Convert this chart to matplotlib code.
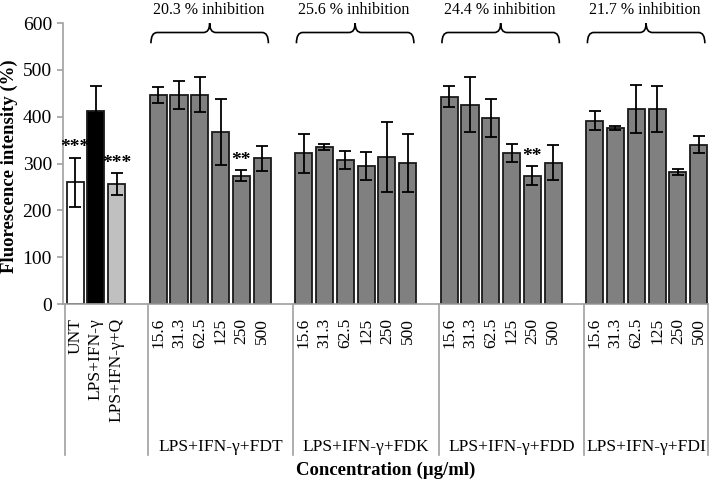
import numpy as np
import matplotlib
matplotlib.use("Agg")
import matplotlib.pyplot as plt
from matplotlib.path import Path
from matplotlib.patches import PathPatch

plt.rcParams['font.family'] = ['Liberation Serif', 'DejaVu Serif']

# control bars
control_labels = ["UNT", "LPS+IFN-γ", "LPS+IFN-γ+Q"]
control_means = [260, 413, 257]
control_errs = [53, 53, 23]
control_colors = ["white", "black", "#c0c0c0"]
control_stars = ["***", "", "***"]

# treatment groups
conc_labels = ["15.6", "31.3", "62.5", "125", "250", "500"]
group_names = ["LPS+IFN-γ+FDT", "LPS+IFN-γ+FDK", "LPS+IFN-γ+FDD", "LPS+IFN-γ+FDI"]
inhibition = ["20.3 % inhibition", "25.6 % inhibition", "24.4 % inhibition", "21.7 % inhibition"]

fdt_means = [447, 446, 447, 368, 274, 311]
fdt_errs = [17, 30, 37, 71, 12, 27]
fdk_means = [322, 335, 308, 295, 314, 301]
fdk_errs = [42, 6, 20, 30, 75, 62]
fdd_means = [443, 426, 397, 322, 274, 302]
fdd_errs = [23, 58, 41, 19, 20, 37]
fdi_means = [392, 376, 417, 417, 282, 340]
fdi_errs = [20, 4, 51, 49, 7, 18]

group_means = [fdt_means, fdk_means, fdd_means, fdi_means]
group_errs = [fdt_errs, fdk_errs, fdd_errs, fdi_errs]
group_stars = [["", "", "", "", "**", ""], ["", "", "", "", "", ""],
               ["", "", "", "", "**", ""], ["", "", "", "", "", ""]]

fig = plt.figure(figsize=(7.09, 4.82), dpi=100)
ax = fig.add_axes([0.0889, 0.369, 0.9111, 0.583])

bar_w = 0.82
edge = "#1a1a1a"
err_kw = dict(ecolor="black", elinewidth=1.3, capsize=4, capthick=1.3)

ctrl_x = np.arange(len(control_labels))
ax.bar(ctrl_x, control_means, bar_w, yerr=control_errs, color=control_colors,
       edgecolor=edge, linewidth=1.3, error_kw=err_kw, zorder=2)
for x, m, e, s in zip(ctrl_x, control_means, control_errs, control_stars):
    if s:
        ax.text(x, m + e + 3, s, ha="center", va="bottom", fontsize=14, fontweight="bold")

tick_pos = list(ctrl_x)
tick_lab = list(control_labels)
seps = [-0.5]
for g in range(len(group_names)):
    start = 4 + 7 * g
    gx = start + np.arange(len(conc_labels))
    ax.bar(gx, group_means[g], bar_w, yerr=group_errs[g], color="#808080",
           edgecolor=edge, linewidth=1.3, error_kw=err_kw, zorder=2)
    for x, m, e, s in zip(gx, group_means[g], group_errs[g], group_stars[g]):
        if s:
            ax.text(x, m + e + 3, s, ha="center", va="bottom", fontsize=14, fontweight="bold")
    tick_pos += list(gx)
    tick_lab += conc_labels
    seps.append(start - 0.5)

    # curly brace with inhibition text
    x0, x1 = gx[0] - 0.35, gx[-1] + 0.3
    xm = (x0 + x1) / 2
    y0, y1, y2 = 557, 580, 600
    verts = [(x0, y0), (x0, y1), (x0 + 0.3, y1),
             (xm - 0.3, y1), (xm, y1), (xm, y2),
             (xm, y1), (xm + 0.3, y1),
             (x1 - 0.3, y1), (x1, y1), (x1, y0)]
    codes = [Path.MOVETO, Path.CURVE3, Path.CURVE3,
             Path.LINETO, Path.CURVE3, Path.CURVE3,
             Path.CURVE3, Path.CURVE3,
             Path.LINETO, Path.CURVE3, Path.CURVE3]
    ax.add_patch(PathPatch(Path(verts, codes), fill=False, lw=1.2, ec="black", clip_on=False))
    ax.text(xm - 0.05, 629, inhibition[g], ha="center", va="center", fontsize=11.5)

    # group label under the ticks
    ax.text((start - 0.5 + min(start + 6.5, 30.5)) / 2, -0.509, group_names[g],
            transform=ax.get_xaxis_transform(), ha="center", va="center", fontsize=12.5)
seps.append(30.45)

for s in seps:
    ax.plot([s, s], [0, -0.537], color="#a0a0a0", lw=1.2,
            transform=ax.get_xaxis_transform(), clip_on=False)

ax.set_xticks(tick_pos)
ax.set_xticklabels(tick_lab, rotation=90, fontsize=12.5)
ax.tick_params(axis="x", length=0, pad=10)
ax.set_xlim(-0.58, 30.5)
ax.set_ylim(0, 600)
ax.set_yticks(range(0, 601, 100))
ax.tick_params(axis="y", direction="out", length=4, width=1.2, color="#a0a0a0",
               labelsize=14, pad=4)

for side in ["top", "right"]:
    ax.spines[side].set_visible(False)
for side in ["left", "bottom"]:
    ax.spines[side].set_color("#a0a0a0")
    ax.spines[side].set_linewidth(1.2)

ax.text(-0.0836, 0.49, "Fluorescence intensity (%)", transform=ax.transAxes, rotation=90,
        ha="center", va="center", fontsize=13.5, fontweight="bold")
ax.text(0.5, -0.59, "Concentration (µg/ml)", transform=ax.transAxes,
        ha="center", va="center", fontsize=13.5, fontweight="bold")

fig.savefig("out.png", dpi=100)
